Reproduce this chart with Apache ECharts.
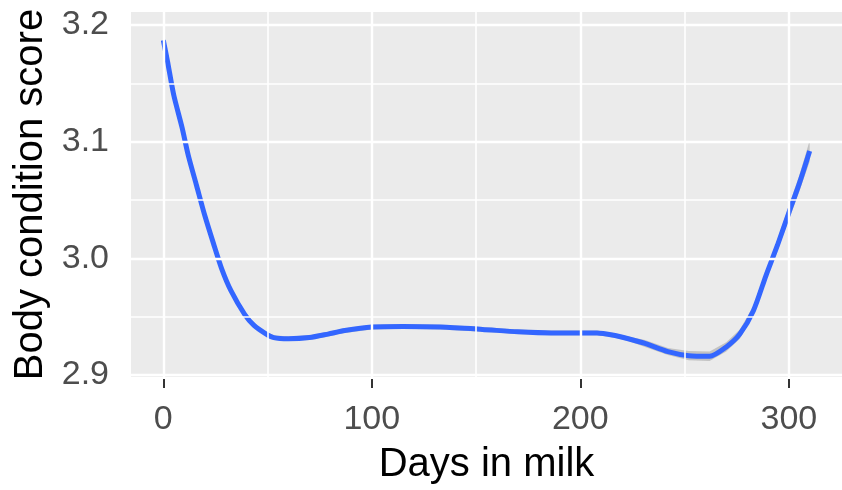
<!DOCTYPE html>
<html>
<head>
<meta charset="utf-8">
<script src="https://cdn.jsdelivr.net/npm/echarts@6/dist/echarts.min.js"></script>
<style>html,body{margin:0;padding:0;background:#fff}#c{width:842px;height:490px}</style>
</head>
<body>
<div id="c"></div>
<script>
// Data
const days = [0, 2, 5, 9, 12, 16, 20, 24, 28, 32.5, 39, 43.5, 49, 53, 60, 70, 79, 87, 100, 115, 133, 153, 170, 186, 208, 216, 223, 231, 242, 252, 262, 270, 276.5, 283, 289, 294.5, 300, 305, 310];
const bcs = [3.187, 3.169, 3.140, 3.112, 3.088, 3.062, 3.036, 3.013, 2.991, 2.972, 2.952, 2.9425, 2.9355, 2.932, 2.931, 2.932, 2.935, 2.938, 2.941, 2.9415, 2.941, 2.939, 2.937, 2.936, 2.936, 2.934, 2.931, 2.927, 2.920, 2.9165, 2.916, 2.924, 2.935, 2.955, 2.985, 3.011, 3.039, 3.064, 3.092];
const ciHalf = [0.007, 0.006, 0.005, 0.004, 0.004, 0.003, 0.003, 0.003, 0.003, 0.002, 0.002, 0.002, 0.002, 0.002, 0.002, 0.002, 0.002, 0.002, 0.002, 0.002, 0.002, 0.002, 0.002, 0.002, 0.002, 0.002, 0.002, 0.003, 0.003, 0.004, 0.004, 0.004, 0.004, 0.004, 0.004, 0.005, 0.006, 0.007, 0.009];
const xTicks = [0, 100, 200, 300];
const xMinor = [50, 150, 250];
const yTicks = [2.9, 3.0, 3.1, 3.2];
const yMinor = [2.95, 3.05, 3.15];

const fit = days.map((d, i) => [d, bcs[i]]);

const gridLines = [];
xTicks.forEach(v => gridLines.push({xAxis: v, lineStyle: {width: 2.4}}));
xMinor.forEach(v => gridLines.push({xAxis: v, lineStyle: {width: 1.6}}));
yTicks.forEach(v => gridLines.push({yAxis: v, lineStyle: {width: 2.4}}));
yMinor.forEach(v => gridLines.push({yAxis: v, lineStyle: {width: 1.6}}));

const chart = echarts.init(document.getElementById('c'), null, {renderer: 'canvas'});
const FONT = 'Liberation Sans, Arial, sans-serif';
chart.setOption({
  animation: false,
  grid: {left: 131, top: 12, width: 727, height: 372.5, show: true, backgroundColor: '#EBEBEB', borderWidth: 0, containLabel: false},
  xAxis: {
    type: 'value', min: -15.5, max: 325.5, offset: 2,
    name: 'Days in milk', nameLocation: 'middle', nameGap: 66,
    nameTextStyle: {fontFamily: FONT, fontSize: 40, color: '#000'},
    axisLine: {show: false},
    axisTick: {show: true, customValues: xTicks, length: 9, lineStyle: {color: '#333', width: 2}},
    axisLabel: {customValues: xTicks, fontFamily: FONT, fontSize: 34, color: '#4D4D4D', margin: 24},
    splitLine: {show: false}
  },
  yAxis: {
    type: 'value', min: 2.8982, max: 3.2112, offset: 2,
    name: 'Body condition score', nameLocation: 'middle', nameGap: 76,
    nameTextStyle: {fontFamily: FONT, fontSize: 40, color: '#000'},
    axisLine: {show: false},
    axisTick: {show: true, customValues: yTicks, length: 9, lineStyle: {color: '#333', width: 2}},
    axisLabel: {customValues: yTicks, fontFamily: FONT, fontSize: 34, color: '#4D4D4D', margin: 20, formatter: v => v.toFixed(1)},
    splitLine: {show: false}
  },
  series: [
    {type: 'line', data: [], z: 1, silent: true,
     markLine: {silent: true, symbol: 'none', label: {show: false}, animation: false,
       lineStyle: {color: '#FFFFFF', type: 'solid'}, data: gridLines}},
    {type: 'custom', z: 2, silent: true, data: [0],
     renderItem: function (params, api) {
       const pts = [];
       for (let i = 0; i < days.length; i++) pts.push(api.coord([days[i], bcs[i] + ciHalf[i]]));
       for (let i = days.length - 1; i >= 0; i--) pts.push(api.coord([days[i], bcs[i] - ciHalf[i]]));
       return {type: 'polygon', shape: {points: pts}, style: {fill: 'rgba(153,153,153,0.5)'}};
     }},
    {type: 'line', data: fit, symbol: 'none', smooth: 0.25, lineStyle: {color: '#3366FF', width: 5}, z: 3}
  ]
});
</script>
</body>
</html>
